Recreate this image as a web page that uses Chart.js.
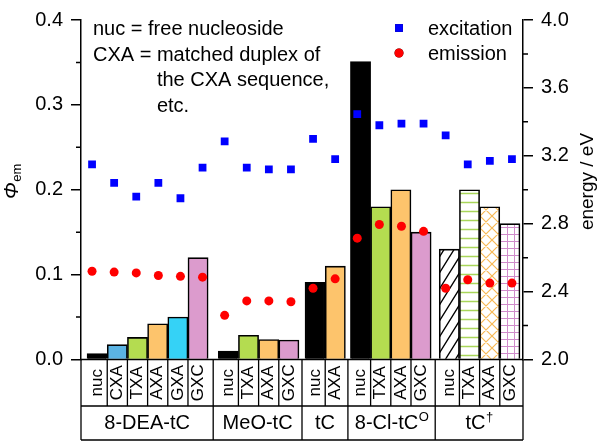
<!DOCTYPE html>
<html>
<head>
<meta charset="utf-8">
<script src="https://cdn.jsdelivr.net/npm/chart.js@4.4.1/dist/chart.umd.min.js"></script>
<style>
  html, body { margin: 0; padding: 0; background: #fff; }
  #wrap { width: 600px; height: 443px; }
</style>
</head>
<body>
<div id="wrap"><canvas id="chart" width="600" height="443"></canvas></div>
<script>
// Probe groups and the duplex sequence of each bar
const GROUP_NAMES = ['8-DEA-tC', 'MeO-tC', 'tC', '8-Cl-tC', 'tC'];
const GROUP_SUPERSCRIPTS = ['', '', '', 'O', '\u2020'];
const GROUP_SEQUENCES = [
    ['nuc', 'CXA', 'TXA', 'AXA', 'GXA', 'GXC'],
    ['nuc', 'TXA', 'AXA', 'GXC'],
    ['nuc', 'AXA'],
    ['nuc', 'TXA', 'AXA', 'GXC'],
    ['nuc', 'TXA', 'AXA', 'GXC']
];

// Fluorescence quantum yield (bars, left axis)
const QUANTUM_YIELD = [0.007, 0.0175, 0.026, 0.042, 0.050, 0.120,
    0.010, 0.0285, 0.0235, 0.023,
    0.091, 0.110,
    0.351, 0.180, 0.200, 0.150,
    0.130, 0.200, 0.180, 0.160];

// Excitation / emission energies in eV (points, right axis)
const EXCITATION_ENERGY = [3.15, 3.04, 2.96, 3.04, 2.95, 3.13,
    3.285, 3.13, 3.12, 3.12,
    3.30, 3.18,
    3.445, 3.38, 3.39, 3.39,
    3.32, 3.15, 3.17, 3.18];
const EMISSION_ENERGY = [2.52, 2.515, 2.51, 2.495, 2.49, 2.485,
    2.26, 2.345, 2.345, 2.34,
    2.42, 2.475,
    2.715, 2.795, 2.785, 2.755,
    2.42, 2.47, 2.45, 2.45];

// Axis ticks
const PHI_TICKS = [0.0, 0.1, 0.2, 0.3, 0.4];
const PHI_MINOR = [0.05, 0.15, 0.25, 0.35];
const ENERGY_TICKS = [2.0, 2.4, 2.8, 3.2, 3.6, 4.0];
const ENERGY_MINOR = [2.2, 2.6, 3.0, 3.4, 3.8];

const NOTE_LINES = ['nuc = free nucleoside', 'CXA = matched duplex of', 'the CXA sequence,', 'etc.'];

const FONT = 'Arial, "Liberation Sans", sans-serif';
const SEQUENCE_COLORS = { nuc: '#000000', CXA: '#5bb4e4', TXA: '#b4dc50', AXA: '#fdc46c', GXA: '#35d2f6', GXC: '#dc9bcd' };
const PATTERNED_GROUP = 4;

// Bar slot layout, in bar widths
const EDGE_LEFT = 0.3, EDGE_RIGHT = 0.15;
const GROUP_GAPS = [0.5, 0.3, 0.25, 0.4];

const barX = [];
const groupSpans = [];
let cursor = EDGE_LEFT;
GROUP_SEQUENCES.forEach((seqs, g) => {
    if (g > 0) cursor += GROUP_GAPS[g - 1];
    const start = cursor;
    seqs.forEach(() => { barX.push(cursor + 0.5); cursor += 1; });
    groupSpans.push([start, cursor]);
});
const X_MAX = cursor + EDGE_RIGHT;
const barSeq = GROUP_SEQUENCES.flat();
const barGroup = GROUP_SEQUENCES.flatMap((s, g) => s.map(() => g));

// Hatch fills for the last group
function tile(w, h, color, width, paint) {
    const c = document.createElement('canvas');
    c.width = w; c.height = h;
    const g = c.getContext('2d');
    g.fillStyle = '#fff';
    g.fillRect(0, 0, w, h);
    g.strokeStyle = color;
    g.lineWidth = width;
    g.beginPath();
    paint(g, w, h);
    g.stroke();
    return g.createPattern(c, 'repeat');
}
const PATTERNS = {
    nuc: tile(10, 16, '#000', 1.4, (g, w, h) => {
        for (const dx of [-w, 0, w]) { g.moveTo(dx - 1, h + 1.6); g.lineTo(dx + w + 1, -1.6); }
    }),
    TXA: tile(9, 9, '#a9d65a', 1.5, (g, w, h) => { g.moveTo(0, h / 2); g.lineTo(w, h / 2); }),
    AXA: tile(12, 12, '#f7b955', 1.2, (g, w, h) => {
        for (const dx of [-w, 0, w]) { g.moveTo(dx, h); g.lineTo(dx + w, 0); g.moveTo(dx, 0); g.lineTo(dx + w, h); }
    }),
    GXC: tile(7, 7, '#d08ccb', 1, (g, w, h) => {
        g.moveTo(w / 2, 0); g.lineTo(w / 2, h); g.moveTo(0, h / 2); g.lineTo(w, h / 2);
    })
};
const barColors = barSeq.map((s, i) => barGroup[i] === PATTERNED_GROUP ? PATTERNS[s] : SEQUENCE_COLORS[s]);

// Minor ticks, category table, legend, note and axis titles
const frame = {
    id: 'frame',
    afterDraw(chart) {
        const ctx = chart.ctx;
        const area = chart.chartArea;
        const x = chart.scales.x, y = chart.scales.y, yE = chart.scales.yE;
        ctx.save();
        ctx.strokeStyle = '#000';
        ctx.fillStyle = '#000';
        ctx.lineWidth = 1.5;

        // minor ticks
        ctx.beginPath();
        PHI_MINOR.forEach(v => { const p = y.getPixelForValue(v); ctx.moveTo(area.left - 5, p); ctx.lineTo(area.left, p); });
        ENERGY_MINOR.forEach(v => { const p = yE.getPixelForValue(v); ctx.moveTo(area.right, p); ctx.lineTo(area.right + 5, p); });
        ctx.stroke();

        // table below the axis
        const top = area.bottom, mid = 406, bot = 440;
        ctx.lineWidth = 1.3;
        ctx.beginPath();
        ctx.moveTo(area.left, top); ctx.lineTo(area.right, top);
        ctx.moveTo(area.left, mid); ctx.lineTo(area.right, mid);
        ctx.moveTo(area.left, bot); ctx.lineTo(area.right, bot);
        ctx.moveTo(area.left, top); ctx.lineTo(area.left, bot);
        ctx.moveTo(area.right, top); ctx.lineTo(area.right, bot);
        const bounds = [area.left];
        groupSpans.forEach(([s, e], g) => {
            for (let k = s + 1; k < e - 0.5; k += 1) {
                const p = x.getPixelForValue(k);
                ctx.moveTo(p, top); ctx.lineTo(p, mid);
            }
            if (g < groupSpans.length - 1) {
                const p = x.getPixelForValue((e + groupSpans[g + 1][0]) / 2);
                ctx.moveTo(p, top); ctx.lineTo(p, bot);
                bounds.push(p);
            }
        });
        bounds.push(area.right);
        ctx.stroke();

        ctx.font = '17px ' + FONT;
        ctx.textAlign = 'center';
        ctx.textBaseline = 'middle';
        barSeq.forEach((s, i) => {
            ctx.save();
            ctx.translate(x.getPixelForValue(barX[i]), (top + mid) / 2);
            ctx.rotate(-Math.PI / 2);
            ctx.fillText(s, 0, 0);
            ctx.restore();
        });

        ctx.textAlign = 'left';
        ctx.textBaseline = 'alphabetic';
        GROUP_NAMES.forEach((name, g) => {
            const cx = (bounds[g] + bounds[g + 1]) / 2;
            ctx.font = '20px ' + FONT;
            const wb = ctx.measureText(name).width;
            ctx.font = '13px ' + FONT;
            const ws = ctx.measureText(GROUP_SUPERSCRIPTS[g]).width;
            const x0 = cx - (wb + ws) / 2;
            ctx.font = '20px ' + FONT;
            ctx.fillText(name, x0, 429);
            ctx.font = '13px ' + FONT;
            ctx.fillText(GROUP_SUPERSCRIPTS[g], x0 + wb + 0.5, 421);
        });

        // legend
        ctx.font = '20px ' + FONT;
        chart.data.datasets.filter(d => d.type === 'scatter').forEach((d, i) => {
            const ly = 28 + i * 25;
            Chart.helpers.drawPoint(ctx, {
                pointStyle: d.pointStyle, radius: d.pointRadius, borderWidth: 0
            }, 399, ly);
            ctx.fillStyle = d.backgroundColor;
            ctx.fill();
            ctx.fillStyle = '#000';
            ctx.fillText(d.label, 428, ly + 7);
        });

        // note
        const indent = ctx.measureText('CXA = ').width;
        NOTE_LINES.forEach((t, i) => {
            ctx.fillText(t, 93 + (i >= 2 ? indent : 0), 35 + i * 25.5);
        });

        // axis titles
        ctx.save();
        ctx.translate(18, 199);
        ctx.rotate(-Math.PI / 2);
        ctx.font = 'italic 20px ' + FONT;
        ctx.fillText('\u03A6', 0, 0);
        const wPhi = ctx.measureText('\u03A6').width;
        ctx.font = '13px ' + FONT;
        ctx.fillText('em', wPhi + 0.5, 2.5);
        ctx.restore();

        ctx.save();
        ctx.translate(592.5, 181.5);
        ctx.rotate(-Math.PI / 2);
        ctx.font = '19px ' + FONT;
        ctx.textAlign = 'center';
        ctx.fillText('energy / eV', 0, 0);
        ctx.restore();

        ctx.restore();
    }
};

const tickFont = { family: FONT, size: 20 };

new Chart(document.getElementById('chart'), {
    data: {
        datasets: [
            {
                type: 'scatter',
                label: 'excitation',
                data: EXCITATION_ENERGY.map((e, i) => ({ x: i + 1, y: e })),
                xAxisID: 'xs',
                yAxisID: 'yE',
                pointStyle: 'rect',
                pointRadius: 5.5,
                backgroundColor: '#0000ff',
                borderWidth: 0,
                order: 0
            },
            {
                type: 'scatter',
                label: 'emission',
                data: EMISSION_ENERGY.map((e, i) => ({ x: i + 1, y: e })),
                xAxisID: 'xs',
                yAxisID: 'yE',
                pointStyle: 'circle',
                pointRadius: 4.5,
                backgroundColor: '#ff0000',
                borderWidth: 0,
                order: 1
            },
            {
                type: 'bar',
                label: 'quantum yield',
                data: QUANTUM_YIELD.map((v, i) => ({ x: barX[i], y: v })),
                xAxisID: 'x',
                yAxisID: 'y',
                backgroundColor: barColors,
                borderColor: '#000',
                borderWidth: 1.6,
                barPercentage: 1,
                categoryPercentage: 1,
                grouped: false,
                order: 2
            }
        ]
    },
    options: {
        responsive: false,
        animation: false,
        layout: { padding: { top: 13, bottom: 83.5, left: 0, right: 0 } },
        plugins: {
            legend: { display: false },
            tooltip: { enabled: false }
        },
        scales: {
            x: {
                type: 'linear', axis: 'x', display: false, offset: false,
                min: 0, max: X_MAX,
                ticks: { stepSize: 1, includeBounds: false }
            },
            xs: {
                type: 'linear', axis: 'x', display: false, offset: false,
                min: 0.5, max: EXCITATION_ENERGY.length + 0.5
            },
            y: {
                type: 'linear', axis: 'y', position: 'left',
                min: 0, max: 0.4,
                afterBuildTicks: s => { s.ticks = PHI_TICKS.map(v => ({ value: v })); },
                afterFit: s => { s.width = 81; },
                ticks: { callback: v => v.toFixed(1), color: '#000', font: tickFont, padding: 8 },
                grid: { drawOnChartArea: false, drawTicks: true, tickLength: 10, color: '#000', lineWidth: 1.5 },
                border: { display: true, color: '#000', width: 1.5 }
            },
            yE: {
                type: 'linear', axis: 'y', position: 'right',
                min: 2, max: 4,
                afterBuildTicks: s => { s.ticks = ENERGY_TICKS.map(v => ({ value: v })); },
                afterFit: s => { s.width = 77; },
                ticks: { callback: v => v.toFixed(1), color: '#000', font: tickFont, padding: 8 },
                grid: { drawOnChartArea: false, drawTicks: true, tickLength: 10, color: '#000', lineWidth: 1.5 },
                border: { display: true, color: '#000', width: 1.5 }
            }
        }
    },
    plugins: [frame]
});
</script>
</body>
</html>
